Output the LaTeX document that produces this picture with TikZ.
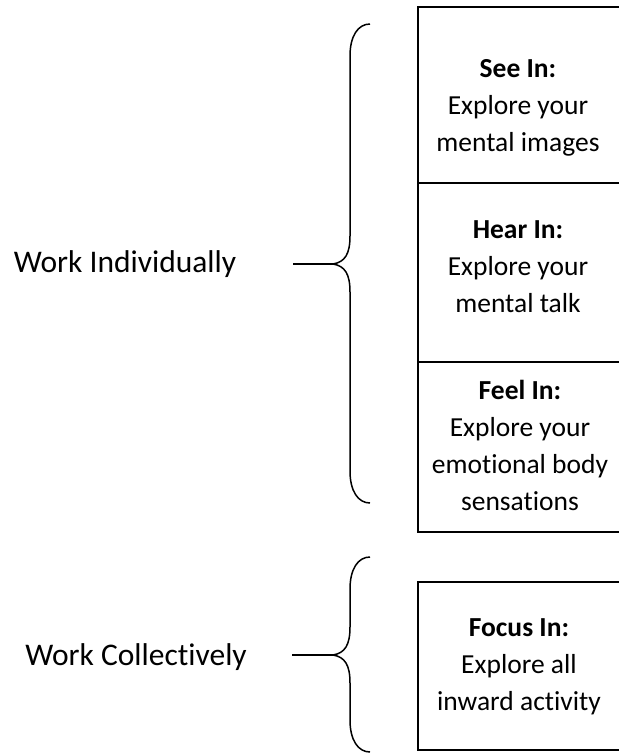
\documentclass[tikz,border=0pt]{standalone}
\usepackage{fontspec}
\setmainfont{Carlito}[Ligatures=NoCommon]
\begin{document}
\begin{tikzpicture}[x=1pt,y=-1pt,
  boxstyle/.style={draw=black,line width=2pt,rectangle,minimum width=204pt,inner sep=0pt},
  boxtext/.style={align=center,inner sep=0pt,font=\fontsize{27.5}{37}\selectfont},
  worklabel/.style={inner sep=0pt,font=\fontsize{31.5}{36}\selectfont},
  bracestyle/.style={line width=1.5pt,line join=round},
  linkstyle/.style={line width=1.5pt}]
\useasboundingbox (0,0) rectangle (619,753);
% boxes
\node[boxstyle,minimum height=176pt] (b1) at (520,95) {};
\node[boxstyle,minimum height=179pt] (b2) at (520,272.5) {};
\node[boxstyle,minimum height=170pt] (b3) at (520,447) {};
\node[boxstyle,minimum height=168pt] (b4) at (520,666) {};
% box texts
\node[boxtext] (t1) at (518,108) {\textbf{See In:}\\Explore your\\mental images};
\node[boxtext] (t2) at (518,267) {\textbf{Hear In:}\\Explore your\\mental talk};
\node[boxtext] (t3) at (520,445) {\textbf{Feel In:}\\Explore your\\emotional body\\sensations};
\node[boxtext] (t4) at (519,667) {\textbf{Focus In:}\\Explore all\\inward activity};
% labels
\node[worklabel] (wi) at (125,264) {Work Individually};
\node[worklabel] (wc) at (136,657) {Work Collectively};
% brace 1
\coordinate (tip1) at (333,264);
\coordinate (s1) at (293,264);
\coordinate (top1) at (370,24);
\coordinate (bot1) at (370,503);
\draw[bracestyle] (top1) .. controls (358,24) and (350,36) .. (350,56) -- (350,236)
  .. controls (350,254) and (345,262) .. (tip1)
  .. controls (345,266) and (350,274) .. (350,292) -- (350,471)
  .. controls (350,491) and (358,503) .. (bot1);
\draw[linkstyle] (s1) -- (tip1);
% brace 2
\coordinate (tip2) at (333,655);
\coordinate (s2) at (292,655);
\coordinate (top2) at (370,557);
\coordinate (bot2) at (370,752);
\draw[bracestyle] (top2) .. controls (358,557) and (350,569) .. (350,589) -- (350,627)
  .. controls (350,645) and (345,653) .. (tip2)
  .. controls (345,657) and (350,665) .. (350,683) -- (350,720)
  .. controls (350,740) and (358,752) .. (bot2);
\draw[linkstyle] (s2) -- (tip2);
\end{tikzpicture}
\end{document}
